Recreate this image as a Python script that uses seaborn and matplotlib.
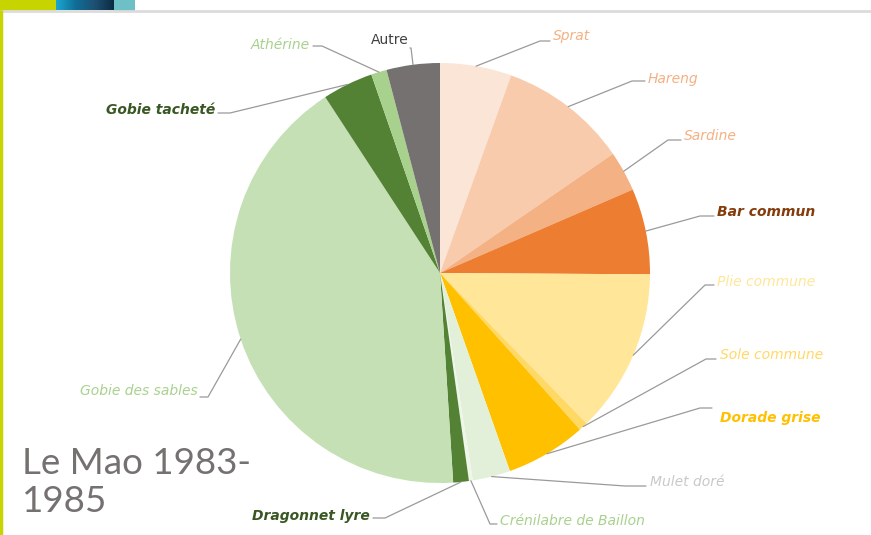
import matplotlib
matplotlib.use("Agg")
import matplotlib.pyplot as plt
import numpy as np
import seaborn as sns

# Species composition (share of catches, %), clockwise from 12 o'clock
species = ["Sprat", "Hareng", "Sardine", "Bar commun", "Plie commune",
           "Sole commune", "Dorade grise", "Mulet doré", "Crénilabre de Baillon",
           "Dragonnet lyre", "Gobie des sables", "Gobie tacheté", "Athérine", "Autre"]
shares = [5.5, 9.9, 3.1, 6.6, 12.6, 0.7, 6.2, 2.9, 0.3, 1.2, 41.8, 3.9, 1.2, 4.1]
title_lines = ["Le Mao 1983-", "1985"]

slice_colors = ["#FBE5D6", "#F8CBAD", "#F4B183", "#ED7D31", "#FFE699",
                "#FFD966", "#FFC000", "#E2F0D9", "#EEF6E8", "#548235",
                "#C5E0B4", "#548235", "#A9D18E", "#767171"]
label_colors = ["#F4B183", "#F4B183", "#F4B183", "#843C0C", "#FFE699",
                "#FFD966", "#FFC000", "#C9C9C9", "#A9D18E", "#385723",
                "#A9D18E", "#385723", "#A9D18E", "#404040"]
label_bold = {"Bar commun", "Dorade grise", "Dragonnet lyre", "Gobie tacheté"}

sns.set_style("white")
plt.rcParams["font.family"] = ["DejaVu Sans"]

W, H = 871, 535
fig = plt.figure(figsize=(W / 100, H / 100), dpi=100)
ax = fig.add_axes([0, 0, 1, 1])

# pie drawn clockwise from the top; y axis is inverted so counterclock=True runs clockwise on screen
cx, cy, R = 440, 273, 210
wedges, _ = ax.pie(shares, colors=slice_colors, startangle=-90, counterclock=True,
                   center=(cx, cy), radius=R, frame=True,
                   wedgeprops=dict(linewidth=0))
ax.set_xlim(0, W)
ax.set_ylim(H, 0)
ax.set_aspect("equal")
ax.axis("off")

# slide decorations
ax.add_patch(plt.Rectangle((0, 0), 56, 10.5, color="#C8D400", lw=0))
grad = np.linspace(0, 1, 60)[None, :]
ax.imshow(np.vstack([grad] * 3), extent=(56, 114, 10.5, 0), aspect="auto",
          cmap=matplotlib.colors.LinearSegmentedColormap.from_list(
              "band", ["#1AA6D0", "#0F6E95", "#1E4F72", "#0A2A40"]), zorder=1)
ax.add_patch(plt.Rectangle((114, 0), 21, 10.5, color="#6CC0C6", lw=0))
ax.plot([0, W], [11, 11], color="#DCDCDC", lw=2, solid_capstyle="butt")
ax.plot([1.2, 1.2], [10, H], color="#C8D400", lw=2.5, solid_capstyle="butt")
ax.set_xlim(0, W)
ax.set_ylim(H, 0)

# label placement: (text x, text y, horizontal alignment, leader elbow points)
layout = {
    "Sprat": (553, 36, "left", [(540, 41), (550, 41)]),
    "Hareng": (648, 79, "left", [(632, 81), (645, 81)]),
    "Sardine": (684, 136, "left", [(668, 140), (681, 140)]),
    "Bar commun": (717, 212, "left", [(700, 216), (714, 216)]),
    "Plie commune": (717, 282, "left", [(705, 285), (714, 285)]),
    "Sole commune": (720, 355, "left", [(706, 359), (716, 359)]),
    "Dorade grise": (720, 418, "left", [(700, 408), (712, 408)]),
    "Mulet doré": (650, 482, "left", [(625, 486), (646, 486)]),
    "Crénilabre de Baillon": (500, 521, "left", [(490, 524), (497, 524)]),
    "Dragonnet lyre": (370, 516, "right", [(385, 518), (373, 518)]),
    "Gobie des sables": (198, 391, "right", [(208, 397), (200, 397)]),
    "Gobie tacheté": (215, 110, "right", [(230, 113), (218, 113)]),
    "Athérine": (310, 45, "right", [(322, 46), (313, 46)]),
    "Autre": (390, 40, "center", [(411, 48), (410, 48)]),
}

for w, name, tcol in zip(wedges, species, label_colors):
    mid = np.deg2rad((w.theta1 + w.theta2) / 2)
    ex, ey = cx + R * np.cos(mid), cy + R * np.sin(mid)
    tx, ty, ha, elbow = layout[name]
    xs = [ex] + [p[0] for p in elbow]
    ys = [ey] + [p[1] for p in elbow]
    ax.plot(xs, ys, color="#9A9A9A", lw=0.9, zorder=3)
    style = "normal" if name == "Autre" else "italic"
    weight = "bold" if name in label_bold else "normal"
    ax.text(tx, ty, name, ha=ha, va="center", fontsize=10, color=tcol,
            style=style, fontweight=weight, zorder=4)

ax.text(22, 463, title_lines[0], fontsize=26.5, color="#767171", va="center",
        ha="left", family=["Lato", "DejaVu Sans"])
ax.text(22, 502, title_lines[1], fontsize=26.5, color="#767171", va="center",
        ha="left", family=["Lato", "DejaVu Sans"])

fig.savefig("out.png", dpi=100)
